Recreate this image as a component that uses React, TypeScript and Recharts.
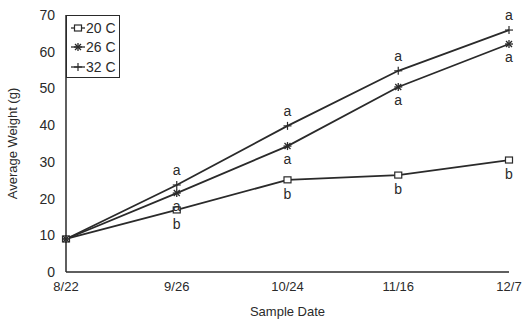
import React from 'react';
import { LineChart, Line, XAxis, YAxis, LabelList, Label } from 'recharts';

const dates = ['8/22', '9/26', '10/24', '11/16', '12/7'];
const w20 = [9, 16.9, 25.1, 26.4, 30.5];
const w26 = [9, 21.5, 34.3, 50.4, 62.1];
const w32 = [9, 23.7, 39.8, 54.8, 65.9];
const sig20 = ['', 'b', 'b', 'b', 'b'];
const sig26 = ['', 'a', 'a', 'a', 'a'];
const sig32 = ['', 'a', 'a', 'a', 'a'];
const yTicks = [0, 10, 20, 30, 40, 50, 60, 70];
const seriesNames = ['20 C', '26 C', '32 C'];

const data = dates.map((d, i) => ({
  date: d,
  w20: w20[i],
  w26: w26[i],
  w32: w32[i],
  s20: sig20[i],
  s26: sig26[i],
  s32: sig32[i],
}));

const INK = '#2a2a2a';
const FONT = 'Liberation Sans, Arial, sans-serif';

const Square = (cx: number, cy: number) => (
  <rect x={cx - 3.5} y={cy - 3} width={7} height={6} fill="#fff" stroke={INK} strokeWidth={1.2} />
);
const Star = (cx: number, cy: number) => (
  <g stroke={INK} strokeWidth={1.3}>
    <line x1={cx - 4} y1={cy} x2={cx + 4} y2={cy} />
    <line x1={cx} y1={cy - 4} x2={cx} y2={cy + 4} />
    <line x1={cx - 3} y1={cy - 3} x2={cx + 3} y2={cy + 3} />
    <line x1={cx - 3} y1={cy + 3} x2={cx + 3} y2={cy - 3} />
  </g>
);
const Plus = (cx: number, cy: number) => (
  <g stroke={INK} strokeWidth={1.2}>
    <line x1={cx - 4} y1={cy} x2={cx + 4} y2={cy} />
    <line x1={cx} y1={cy - 4} x2={cx} y2={cy + 4} />
  </g>
);

const makeDot = (fn: (cx: number, cy: number) => React.ReactElement) => (props: any) => (
  <g key={props.key ?? `${props.cx}-${props.cy}`}>{fn(props.cx, props.cy)}</g>
);

const makeLabel = (dy: number) => (props: any) => {
  const { x, y, value } = props;
  if (!value) return null;
  return (
    <text x={x} y={y + dy} textAnchor="middle" dominantBaseline="central" fontSize={14} fontFamily={FONT} fill={INK} stroke="none">
      {value}
    </text>
  );
};

const LegendBox = () => {
  const fns = [Square, Star, Plus];
  return (
    <div
      style={{
        position: 'absolute',
        left: 66,
        top: 15,
        width: 54,
        height: 63,
        border: `1px solid ${INK}`,
        background: '#fff',
        boxSizing: 'border-box',
        fontFamily: FONT,
        fontSize: 14,
        color: INK,
        paddingTop: 2,
      }}
    >
      {seriesNames.map((name, i) => (
        <div key={name} style={{ display: 'flex', alignItems: 'center', height: 19.5 }}>
          <svg width={16} height={12} style={{ marginLeft: 3 }}>
            <line x1={1} y1={6} x2={15} y2={6} stroke={INK} strokeWidth={1.3} />
            {fns[i](8, 6)}
          </svg>
          <span>{name}</span>
        </div>
      ))}
    </div>
  );
};

export default function App() {
  return (
    <div style={{ position: 'absolute', left: 0, top: 0, background: '#fff', width: 522, height: 323 }}>
      <LineChart width={522} height={323} data={data} margin={{ top: 15, right: 13, bottom: 21, left: 0 }}>
        <XAxis
          dataKey="date"
          tickLine={false}
          tickSize={8}
          axisLine={{ stroke: INK, strokeWidth: 1.5 }}
          tick={{ fill: INK, fontSize: 13, fontFamily: FONT }}
          height={30}
          interval={0}
        >
          <Label value="Sample Date" position="bottom" offset={0} dy={5} fill={INK} fontSize={13} fontFamily={FONT} />
        </XAxis>
        <YAxis
          width={66}
          domain={[0, 70]}
          ticks={yTicks}
          tickLine={false}
          tickSize={9}
          axisLine={{ stroke: INK, strokeWidth: 1.5 }}
          tick={{ fill: INK, fontSize: 14, fontFamily: FONT }}
        >
          <Label
            value="Average Weight (g)"
            angle={-90}
            position="insideLeft"
            offset={12}
            style={{ textAnchor: 'middle' }}
            fill={INK}
            fontSize={13}
            fontFamily={FONT}
          />
        </YAxis>
        <Line dataKey="w20" name={seriesNames[0]} stroke={INK} strokeWidth={1.8} isAnimationActive={false} dot={makeDot(Square)} activeDot={false}>
          <LabelList dataKey="s20" content={makeLabel(14)} />
        </Line>
        <Line dataKey="w26" name={seriesNames[1]} stroke={INK} strokeWidth={1.8} isAnimationActive={false} dot={makeDot(Star)} activeDot={false}>
          <LabelList dataKey="s26" content={makeLabel(13)} />
        </Line>
        <Line dataKey="w32" name={seriesNames[2]} stroke={INK} strokeWidth={1.8} isAnimationActive={false} dot={makeDot(Plus)} activeDot={false}>
          <LabelList dataKey="s32" content={makeLabel(-15)} />
        </Line>
      </LineChart>
      <LegendBox />
    </div>
  );
}
